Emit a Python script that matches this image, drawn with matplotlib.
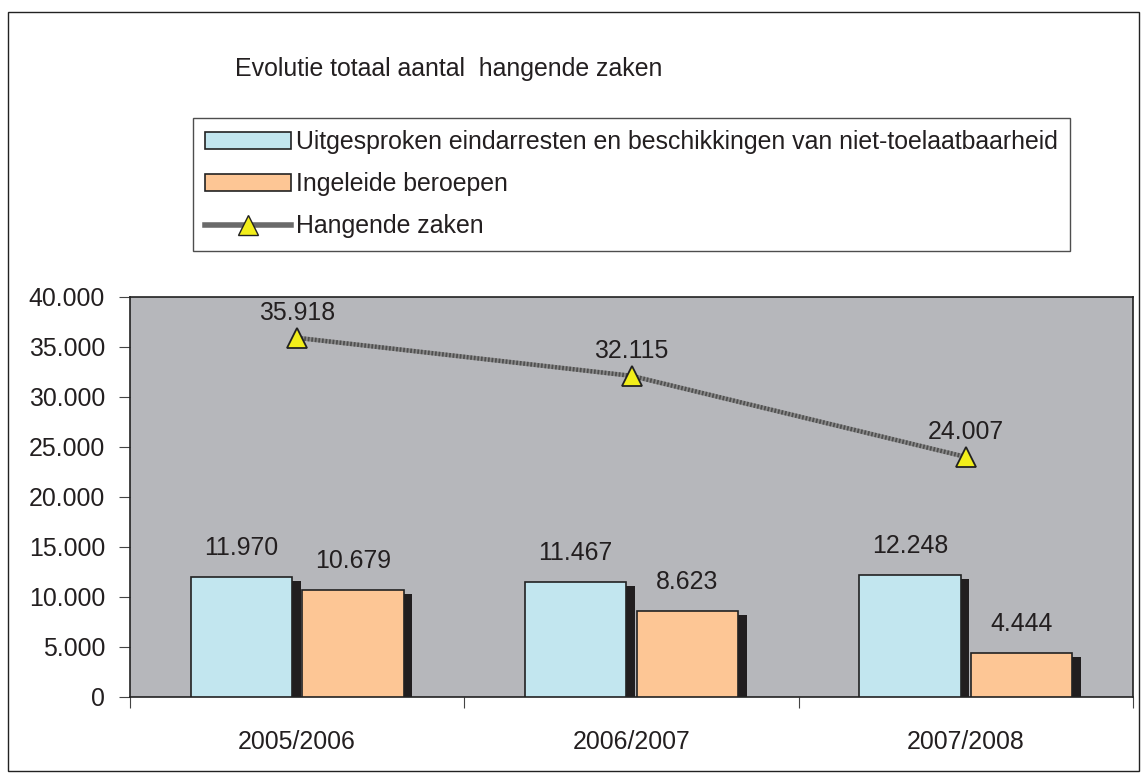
import matplotlib
matplotlib.use("Agg")
import matplotlib.pyplot as plt
from matplotlib.patches import Rectangle, Patch
from matplotlib.lines import Line2D
import numpy as np

plt.rcParams['font.family'] = ['Liberation Sans', 'DejaVu Sans']

categories = ["2005/2006", "2006/2007", "2007/2008"]
uitgesproken = [11970, 11467, 12248]
ingeleid = [10679, 8623, 4444]
hangend = [35918, 32115, 24007]
yticks = [0, 5000, 10000, 15000, 20000, 25000, 30000, 35000, 40000]

def fmt(v):
    return f"{v:,}".replace(",", ".")

FS = 17.9
W, H = 1142, 774
fig = plt.figure(figsize=(W/100, H/100), dpi=100)
fig.patch.set_facecolor('white')
fig.add_artist(Rectangle((8/W, 3/H), 1131/W, 759/H, transform=fig.transFigure,
                         fill=False, edgecolor='#222222', linewidth=1))

ax = fig.add_axes([130/W, 77/H, 1003/W, 400/H])
ax.set_facecolor('#b6b7bb')
x = np.arange(len(categories))
bw = 0.303
off = 0.167
sx = 0.026
sy = 400
blue = '#c2e6ef'
orange = '#fdc695'
shadow = '#211e1f'
for i in range(len(categories)):
    for val, o, c in [(uitgesproken[i], -off, blue), (ingeleid[i], off, orange)]:
        ax.bar(x[i] + o + sx, val - sy, width=bw, bottom=0, color=shadow,
               edgecolor='none', zorder=2)
        ax.bar(x[i] + o, val, width=bw, color=c, edgecolor='#222222',
               linewidth=1.2, zorder=3)
        ax.text(x[i] + o, val + 2900, fmt(val), ha='center', va='center',
                fontsize=FS, color='#231f20', zorder=5)

ax.plot(x, hangend, color='#8a8a8a', linewidth=3.2, zorder=4)
ax.plot(x, hangend, color='#505050', linewidth=3.2, dashes=(0.4, 0.4), zorder=4)
ax.plot(x, hangend, linestyle='none', marker='^', markersize=15,
        markerfacecolor='#f2ee1a', markeredgecolor='#222222', markeredgewidth=1.3,
        zorder=6)
for i, v in enumerate(hangend):
    ax.text(x[i], v + 2500, fmt(v), ha='center', va='center', fontsize=FS,
            color='#231f20', zorder=6)

ax.set_xlim(-0.5, 2.5)
ax.set_ylim(0, 40000)
ax.set_yticks(yticks)
ax.set_yticklabels([fmt(v) for v in yticks], fontsize=FS, color='#231f20')
ax.set_xticks([-0.5, 0.5, 1.5, 2.5])
ax.set_xticklabels([])
ax.set_xticks(x, minor=True)
ax.set_xticklabels(categories, minor=True, fontsize=FS, color='#231f20')
ax.tick_params(axis='x', which='minor', length=0, pad=24)
ax.tick_params(axis='x', which='major', length=8, direction='out', color='#444444')
ax.tick_params(axis='y', length=8, direction='out', color='#444444', pad=10)
for s in ax.spines.values():
    s.set_color('#222222')
    s.set_linewidth(1.2)

fig.text(235/W, 1 - 69/H, "Evolutie totaal aantal  hangende zaken", fontsize=FS,
         color='#231f20', va='center', ha='left')

handles = [
    Patch(facecolor=blue, edgecolor='#222222', linewidth=1.2),
    Patch(facecolor=orange, edgecolor='#222222', linewidth=1.2),
    Line2D([0], [0], color='#6a6a6a', linewidth=4, marker='^', markersize=14,
           markerfacecolor='#f2ee1a', markeredgecolor='#222222'),
]
labels = ["Uitgesproken eindarresten en beschikkingen van niet-toelaatbaarheid",
          "Ingeleide beroepen", "Hangende zaken"]
leg = fig.legend(handles, labels, loc='upper left',
                 bbox_to_anchor=(193/W, 1 - 118/H), bbox_transform=fig.transFigure,
                 fontsize=FS, frameon=True, fancybox=False, edgecolor='#222222',
                 handlelength=3.45, handleheight=0.7, handletextpad=0.2,
                 labelspacing=0.72, borderpad=0.5, borderaxespad=0)
leg.get_frame().set_linewidth(1.0)
for t in leg.get_texts():
    t.set_color('#231f20')

fig.savefig("out.png", dpi=100)
